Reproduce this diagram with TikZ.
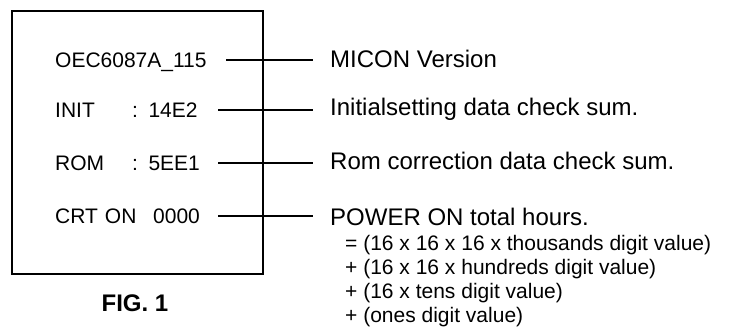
\documentclass[tikz,border=0pt]{standalone}
\usepackage{fontspec}
\setmainfont{Liberation Sans}
\usetikzlibrary{positioning}
\tikzset{
  panel/.style={draw, line width=2.5pt},
  readout/.style={
    anchor=base west,
    inner sep=0pt,
    text width=163pt,
    align=left,
    text height=15pt,
    text depth=0pt,
    font=\fontsize{21}{24}\selectfont
  },
  caption/.style={
    anchor=base west,
    inner sep=0pt,
    inner xsep=17pt,
    text height=17pt,
    text depth=0pt,
    font=\fontsize{24}{28}\selectfont
  },
  formula/.style={
    anchor=north west,
    inner sep=0pt,
    align=left,
    font=\fontsize{21}{24}\selectfont
  },
  figlabel/.style={
    anchor=base,
    inner sep=0pt,
    font=\fontsize{24}{28}\selectfont\bfseries
  },
  lead/.style={line width=2pt}
}

\begin{document}
\begin{tikzpicture}[x=1pt, y=-1pt]
  \useasboundingbox (0,0) rectangle (732,328);
  \draw[panel] (12,11) rectangle (263,274);
  % display readouts
  \node[readout, text width=171pt] (ver) at (55,68) {OEC6087A\_115};
  \node[readout] (init) at (55,118) {\makebox[77pt][l]{INIT}: 14E2};
  \node[readout] (rom) at (55,171) {\makebox[77pt][l]{ROM}: 5EE1};
  \node[readout] (crt) at (55,224) {\makebox[98pt][l]{CRT ON}0000};
  % meanings
  \node[caption] (micon) at (313,68) {MICON Version};
  \node[caption] (initsum) at (313,116) {Initialsetting data check sum.};
  \node[caption] (romsum) at (313,170) {Rom correction data check sum.};
  \node[caption] (power) at (313,226) {POWER ON total hours.};
  \node[formula] (hours) at (345,235) {%
    = (16 x 16 x 16 x thousands digit value)\\
    + (16 x 16 x hundreds digit value)\\
    + (16 x tens digit value)\\
    + (ones digit value)};
  \draw[lead] (ver) -- (ver -| micon.west);
  \draw[lead] (init) -- (init -| initsum.west);
  \draw[lead] (rom) -- (rom -| romsum.west);
  \draw[lead] (crt) -- (crt -| power.west);
  \node[figlabel] (fig) at (135,312) {FIG. 1};
\end{tikzpicture}
\end{document}
